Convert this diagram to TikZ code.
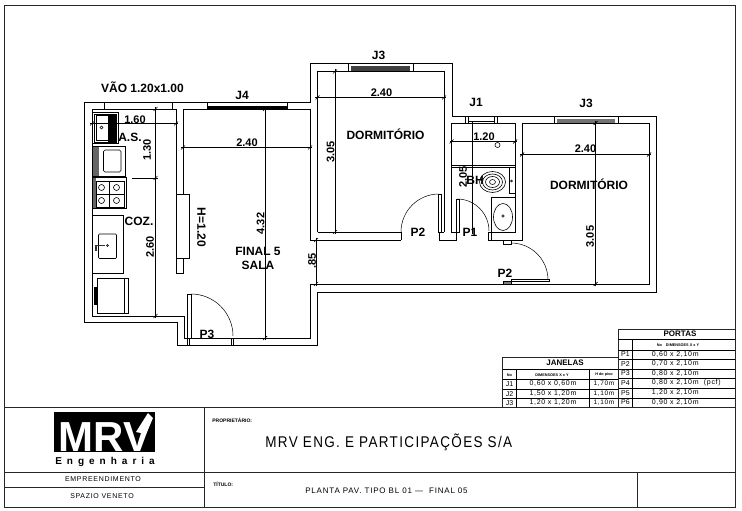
\documentclass[tikz,border=0pt]{standalone}
\usepackage{fontspec}
\setmainfont{Liberation Sans}
\newfontfamily\cadwide[LetterSpace=10]{Liberation Sans}

\begin{document}
\begin{tikzpicture}[x=1pt, y=1pt, yscale=-1, line width=0.7pt,
    wall/.style={line width=0.9pt, color=black},
    thin line/.style={line width=0.5pt, color=black},
    dimline/.style={line width=0.55pt, color=black},
    fixture/.style={line width=0.6pt, color=black},
    framework/.style={line width=0.9pt, color=black!85},
    lbl/.style={font=\bfseries\fontsize{12}{13}\selectfont, inner sep=0pt},
    smalllbl/.style={font=\bfseries\fontsize{11}{12}\selectfont, inner sep=0pt},
    tabletxt/.style={font=\cadwide\fontsize{7}{8}\selectfont, inner sep=0pt},
    tablehead/.style={font=\bfseries\fontsize{3.8}{4}\selectfont, inner sep=0pt},
    tabletitle/.style={font=\bfseries\fontsize{8}{9}\selectfont, inner sep=0pt},
    cadtxt/.style={font=\cadwide\fontsize{7}{9}\selectfont, inner sep=0pt}]

    \useasboundingbox (0, 0) rectangle (742, 511);

    % draw sheet frame and title block
    \draw[framework] (4, 5) rectangle (735, 507);
    \draw[framework] (4, 407) -- (735, 407);
    \draw[framework] (204, 407) -- (204, 507);
    \draw[framework] (4, 472) -- (735, 472);
    \draw[framework] (4, 487) -- (204, 487);
    \draw[framework] (637, 472) -- (637, 507);

    % draw outer wall line
    \draw[wall] (84, 102) -- (310, 102) -- (310, 63.5) -- (452, 63.5) -- (452, 116)
      -- (656.5, 116) -- (656.5, 292) -- (317, 292) -- (317, 345) -- (177, 345)
      -- (177, 322.5) -- (84, 322.5) -- cycle;

    % draw inner wall lines of kitchen and living room
    \draw[wall] (92, 109) -- (176, 109) -- (176, 273);
    \draw[wall] (92, 109) -- (92, 316) -- (184, 316) -- (184, 338) -- (310, 338)
      -- (310, 284) -- (649, 284) -- (649, 123) -- (522, 123) -- (522, 240) -- (488, 240);
    \draw[wall] (183, 109) -- (183, 194);
    \draw[wall] (183, 109) -- (310, 109) -- (310, 240) -- (401, 240);
    \draw[wall] (104, 102) -- (104, 109);
    \draw[wall] (172.5, 102) -- (172.5, 109);

    % draw low wall
    \draw[wall] (176, 194) rectangle (189.5, 258);
    \draw[wall] (176, 258) rectangle (183, 273);

    % draw bedroom one
    \draw[wall] (317.5, 232) -- (317.5, 71.5) -- (444, 71.5) -- (444, 232);
    \draw[wall] (317.5, 232) -- (401, 232) -- (401, 240);
    \draw[wall] (439.5, 232) -- (439.5, 240) -- (456, 240) -- (456, 232) -- (451.5, 232)
      -- (451.5, 123) -- (515, 123) -- (515, 232) -- (488, 232) -- (488, 240);
    \draw[wall] (444, 232) -- (439.5, 232);
    \draw[wall] (451.5, 165) -- (515, 165);
    \draw[thin line] (451.5, 167) -- (515, 167);
    \draw[wall] (522, 240) -- (515, 240);

    % draw windows
    \fill[color=black] (207, 105.5) rectangle (287, 109);
    \draw[wall] (207, 102) rectangle (287, 109);
    \fill[color=black!75] (351, 66) rectangle (410, 71.5);
    \draw[wall] (348, 63.5) rectangle (413, 71.5);
    \draw[wall] (465, 116) rectangle (497, 123);
    \draw[thin line] (468, 116) -- (468, 123) (494, 116) -- (494, 123) (468, 121) -- (494, 121);
    \fill[color=black!55] (557, 119) rectangle (615, 123);
    \draw[wall] (554, 116) rectangle (618, 123);

    % draw doors
    \draw[wall] (187.5, 294) rectangle (191, 338);
    \draw[thin line] (191, 294) arc [radius = 42, start angle = -90, delta angle = 90];
    \draw[wall] (187, 338) rectangle (189, 345);
    \draw[wall] (231, 338) rectangle (233.5, 345);
    \draw[wall] (438, 194) rectangle (441, 232);
    \draw[thin line] (439, 194) arc [radius = 38, start angle = -90, delta angle = -90];
    \draw[wall] (456, 199) rectangle (459, 232);
    \draw[thin line] (457, 199) arc [radius = 32, start angle = -90, delta angle = 90];
    \draw[wall] (488, 232) rectangle (491, 240);
    \draw[wall] (503, 240) rectangle (511, 244);
    \draw[thin line] (511, 243) arc [radius = 37, start angle = -90, delta angle = 90];
    \draw[wall] (511.5, 279) rectangle (549, 281.5);
    \filldraw[thin line, fill=black!50] (503, 281) rectangle (511, 284);

    % draw laundry sink
    \draw[fixture] (92.5, 112.5) rectangle (118, 143.5);
    \draw[fixture] (94, 114) rectangle (116, 142);
    \fill[color=black] (108, 114.5) rectangle (115.5, 141.5);
    \draw[fixture] (96, 115.5) rectangle (108, 140);
    \draw[fixture] (101.5, 127.5) circle (1.5);

    % draw washing machine
    \draw[fixture] (92.5, 146.5) rectangle (125, 176);
    \fill[color=black!60] (93, 147) rectangle (99, 175.5);
    \draw[fixture, rounded corners=1.5pt] (103.5, 150) rectangle (121, 172);

    % draw stove
    \draw[fixture, line width=0.9pt] (92.5, 177.5) rectangle (126, 208.5);
    \fill[color=black!60] (93, 178) rectangle (96, 208);
    \draw[fixture] (96, 181) rectangle (124, 207);
    \draw[fixture] (109.5, 181) -- (109.5, 207) (96, 194) -- (124, 194);
    \foreach \px/\py in {101.5/187.5, 116.5/187.5, 101.5/200.5, 116.5/200.5}
      \filldraw[fixture, fill=white] (\px, \py) circle (3);

    % draw kitchen counter and sink
    \draw[fixture] (92.5, 215) rectangle (123.5, 273.5);
    \draw[fixture, rounded corners=1pt] (98.5, 234) rectangle (116.5, 258.5);
    \fill[color=black!80] (95, 244.5) rectangle (105, 246);
    \fill[color=black!80] (95, 246) rectangle (96.5, 251);
    \draw[fixture] (107.5, 245.5) circle (1);

    % draw refrigerator
    \draw[fixture] (97.5, 278.5) rectangle (128.5, 313.5);
    \fill[color=black] (94, 286.5) rectangle (97.5, 305);
    \draw[fixture, line width=1pt] (124.5, 278.5) -- (124.5, 313.5);

    % draw toilet and washbasin
    \draw[fixture] (492.5, 182) ellipse (13 and 10.5);
    \draw[fixture] (492.5, 182) ellipse (10 and 8);
    \draw[fixture] (492.5, 182) ellipse (7 and 5.5);
    \draw[fixture] (492.5, 182) ellipse (3 and 2.5);
    \draw[fixture] (509, 167) rectangle (515, 193);
    \draw[fixture] (511.5, 181) circle (1);
    \draw[fixture] (491, 232) -- (491, 197) -- (515, 197);
    \draw[fixture] (503, 217) ellipse (9.5 and 13.5);
    \draw[fixture] (503, 216) circle (1.2);
    \draw[fixture] (497.5, 145) circle (2.5);

    % draw dimension lines
    \draw[dimline] (90, 123.5) -- (178, 123.5);
    \draw[dimline] (155.5, 107) -- (155.5, 318);
    \draw[dimline] (132, 178) -- (158, 178);
    \draw[dimline] (181, 147.5) -- (312, 147.5);
    \draw[dimline] (265, 107) -- (265, 340);
    \draw[dimline] (316, 238) -- (316, 286);
    \draw[dimline] (315, 97.5) -- (446, 97.5);
    \draw[dimline] (335, 69.5) -- (335, 234);
    \draw[dimline] (450, 141.5) -- (517, 141.5);
    \draw[dimline] (472, 121) -- (472, 234);
    \draw[dimline] (520, 154.5) -- (651, 154.5);
    \draw[dimline] (595.5, 121) -- (595.5, 286);

    % draw dimension ticks
    \foreach \px/\py in {92/123.5, 176/123.5, 155.5/109, 155.5/178, 155.5/316,
        183/147.5, 310/147.5, 265/109, 265/338, 316/240, 316/284,
        317.5/97.5, 444/97.5, 335/71.5, 335/232, 451.5/141.5, 515/141.5,
        522/154.5, 649/154.5, 595.5/123, 595.5/284}
      \draw[dimline, line width=0.7pt] (\px - 2, \py + 2) -- (\px + 2, \py - 2);

    % draw room and dimension labels
    \node[lbl] (vao) at (142.5, 87.5) {VÃO 1.20x1.00};
    \node[lbl] (jfour) at (242, 95) {J4};
    \node[lbl] (jthreetop) at (378.5, 55) {J3};
    \node[lbl] (jone) at (476, 102) {J1};
    \node[lbl] (jthreeright) at (586, 103) {J3};
    \node[smalllbl] (wa) at (135, 120) {1.60};
    \node[lbl] (as) at (130, 137) {A.S.};
    \node[smalllbl, rotate=90] (wb) at (147, 150) {1.30};
    \node[lbl] (coz) at (139, 221) {COZ.};
    \node[smalllbl, rotate=90] (wc) at (150, 247) {2.60};
    \node[smalllbl] (wd) at (247, 143) {2.40};
    \node[smalllbl, rotate=90] (we) at (260.5, 223.5) {4.32};
    \node[lbl, rotate=-90] (heightlbl) at (201.5, 227.5) {H=1.20};
    \node[lbl] (finallbl) at (258, 251.5) {FINAL 5};
    \node[lbl] (salalbl) at (258, 265.5) {SALA};
    \node[smalllbl, rotate=90] (wf) at (312, 261) {.85};
    \node[lbl] (pthree) at (207, 334) {P3};
    \node[smalllbl] (wg) at (381.5, 93) {2.40};
    \node[smalllbl, rotate=90] (wh) at (330.5, 152) {3.05};
    \node[lbl] (dorma) at (385.5, 134) {DORMITÓRIO};
    \node[lbl] (ptwoa) at (418, 232.5) {P2};
    \node[smalllbl] (wi) at (484, 137) {1.20};
    \node[smalllbl, rotate=90] (wj) at (463, 177) {2.05};
    \node[lbl] (bh) at (475, 180) {BH};
    \node[lbl] (pone) at (470, 232) {P1};
    \node[smalllbl] (wk) at (585.5, 149) {2.40};
    \node[smalllbl, rotate=90] (wl) at (590, 236.5) {3.05};
    \node[lbl] (dormb) at (589, 184) {DORMITÓRIO};
    \node[lbl] (ptwob) at (505, 273) {P2};

    % draw table of doors
    \draw[framework] (618, 329) -- (735, 329);
    \draw[framework] (618, 329) -- (618, 407);
    \draw[thin line] (632.7, 339) -- (632.7, 407);
    \foreach \py in {339, 350, 359, 369, 378, 388, 398}
      \draw[thin line] (618, \py) -- (735, \py);
    \node[tabletitle] (portas) at (680, 334) {PORTAS};
    \node[tablehead] (portashead) at (678, 345) {No\hspace{4pt}DIMENSOES X x Y};
    \foreach \pname/\py/\ptext in {P1/354.5/{0,60 x 2,10m}, P2/364/{0,70 x 2,10m},
        P3/373.5/{0,80 x 2,10m}, P4/383/{0,80 x 2,10m\ \ (pcf)},
        P5/393/{1,20 x 2,10m}, P6/402.5/{0,90 x 2,10m}}
    {
      \node[tabletxt, font=\fontsize{7}{8}\selectfont] (row\pname) at (625.5, \py) {\pname};
      \node[tabletxt, anchor=west] (txt\pname) at (651.5, \py) {\ptext};
    }

    % draw table of windows
    \draw[framework] (502.5, 357.5) rectangle (618, 407);
    \draw[thin line] (502.5, 369) -- (618, 369);
    \draw[thin line] (516.7, 369) -- (516.7, 407);
    \draw[thin line] (589.3, 369) -- (589.3, 407);
    \foreach \py in {379, 389, 398}
      \draw[thin line] (502.5, \py) -- (618, \py);
    \node[tabletitle] (janelas) at (565, 363) {JANELAS};
    \node[tablehead] (jno) at (509.5, 375) {No};
    \node[tablehead] (jdim) at (552, 375) {DIMENSOES X x Y};
    \node[tablehead] (jpiso) at (604, 375) {H do piso};
    \foreach \pname/\py/\ptext/\pheight in {J1/384/{0,60 x 0,60m}/{1,70m},
        J2/394/{1,50 x 1,20m}/{1,10m}, J3/403/{1,20 x 1,20m}/{1,10m}}
    {
      \node[tabletxt, font=\fontsize{7}{8}\selectfont] (row\pname) at (509.5, \py) {\pname};
      \node[tabletxt] (txt\pname) at (553, \py) {\ptext};
      \node[tabletxt, font=\cadwide\fontsize{6.5}{8}\selectfont] (h\pname) at (604, \py) {\pheight};
    }

    % draw logo
    \fill[color=black] (54, 412) rectangle (155, 452);
    \node[inner sep=0pt, text=white, anchor=south,
      font=\bfseries\fontsize{42}{42}\selectfont] (mrv) at (105, 452) {MRV};
    \fill[color=white] (136, 432) -- (148, 413) -- (153, 418) -- (146, 434) -- cycle;
    \node[inner sep=0pt, font=\bfseries\fontsize{10}{10}\selectfont] (engenharia) at (105, 462)
      {E\hspace{5pt}n\hspace{5pt}g\hspace{5pt}e\hspace{5pt}n\hspace{5pt}h\hspace{5pt}a\hspace{5pt}r\hspace{5pt}i\hspace{5pt}a};

    % draw title block texts
    \node[cadtxt] (empr) at (103, 479.5) {EMPREENDIMENTO};
    \node[cadtxt] (spazio) at (102, 496) {SPAZIO VENETO};
    \node[inner sep=0pt, anchor=west, font=\bfseries\fontsize{5}{6}\selectfont] (prop) at (212, 420) {PROPRIETÁRIO:};
    \node[inner sep=0pt, anchor=west, font=\bfseries\fontsize{5}{6}\selectfont] (titulo) at (213, 484) {TÍTULO:};
    \node[inner sep=0pt, anchor=west, yscale=1.15, font=\cadwide\fontsize{13.5}{15}\selectfont] (owner) at (265, 442) {MRV ENG. E PARTICIPAÇÕES S/A};
    \node[cadtxt, anchor=west, font=\cadwide\fontsize{8}{9}\selectfont] (plan) at (305, 491) {PLANTA PAV. TIPO BL 01 —\ \ FINAL 05};
\end{tikzpicture}
\end{document}
